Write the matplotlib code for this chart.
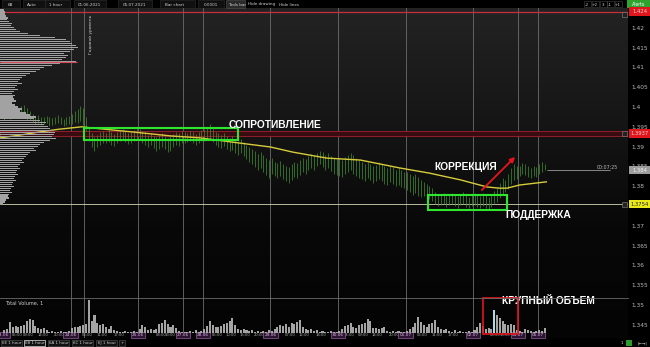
import matplotlib.pyplot as plt
import matplotlib.transforms as mtransforms
from matplotlib.colors import LinearSegmentedColormap
from matplotlib.patches import Rectangle
import numpy as np

W, H = 650, 347


def fx(px):
    return px / W


def fy(py):
    return 1 - py / H


# ---- data ----
day_labels = ['23.06', '24.06', '25.06', '27.06', '28.06', '29.06',
              '30.06', '01.07', '02.07', '04.07', '05.07']
day_bars = [24, 24, 16, 7, 24, 24, 24, 24, 16, 7, 3]
hour_marks = [
    [(5, '05:00'), (9, '09:00'), (14, '14:00'), (20, '20:00')],
    [(6, '06:00'), (11, '11:00'), (17, '17:00')],
    [(8, '08:00'), (13, '13:00')],
    [],
    [(5, '05:00'), (10, '10:00'), (15, '15:00'), (20, '20:00')],
    [(7, '07:00'), (12, '12:00'), (18, '18:00')],
    [(4, '04:00'), (9, '09:00'), (14, '14:00'), (20, '20:00')],
    [(6, '06:00'), (11, '11:00'), (17, '17:00')],
    [(8, '08:00'), (13, '13:00')],
    [],
    [],
]

highs = [
    1.3985, 1.3990, 1.3988, 1.3995, 1.3998, 1.3992, 1.4002, 1.4004, 1.3998, 1.3990, 1.3982, 1.3978,
    1.3980, 1.3976, 1.3974, 1.3978, 1.3975, 1.3972, 1.3976, 1.3980, 1.3974, 1.3970, 1.3975, 1.3978,
    1.3982, 1.3990, 1.3995, 1.4002, 1.3998, 1.3975, 1.3950, 1.3935, 1.3925, 1.3930, 1.3938, 1.3940,
    1.3935, 1.3942, 1.3938, 1.3932, 1.3936, 1.3940, 1.3945, 1.3940, 1.3934, 1.3938, 1.3942, 1.3946,
    1.3944, 1.3940, 1.3936, 1.3930, 1.3934, 1.3928, 1.3925, 1.3930, 1.3934, 1.3928, 1.3922, 1.3926,
    1.3932, 1.3938, 1.3935, 1.3940,
    1.3938, 1.3935, 1.3940, 1.3936, 1.3932, 1.3938, 1.3942,
    1.3945, 1.3948, 1.3958, 1.3945, 1.3938, 1.3934, 1.3930, 1.3935, 1.3928, 1.3922, 1.3926, 1.3920,
    1.3915, 1.3918, 1.3912, 1.3905, 1.3900, 1.3895, 1.3888, 1.3882, 1.3886, 1.3878, 1.3872, 1.3865,
    1.3870, 1.3862, 1.3858, 1.3864, 1.3855, 1.3850, 1.3848, 1.3856, 1.3862, 1.3858, 1.3866, 1.3872,
    1.3868, 1.3876, 1.3882, 1.3878, 1.3885, 1.3890, 1.3886, 1.3880, 1.3884, 1.3876, 1.3872, 1.3868,
    1.3870, 1.3866, 1.3874, 1.3880, 1.3885, 1.3878, 1.3872, 1.3865, 1.3860, 1.3856, 1.3862, 1.3855,
    1.3850, 1.3854, 1.3860, 1.3856, 1.3850, 1.3845, 1.3852, 1.3848, 1.3842, 1.3846, 1.3840, 1.3836,
    1.3835, 1.3830, 1.3826, 1.3832, 1.3822, 1.3815, 1.3810, 1.3805, 1.3800, 1.3795, 1.3785, 1.3780,
    1.3778, 1.3782, 1.3776, 1.3780, 1.3784, 1.3778, 1.3775, 1.3780, 1.3785, 1.3778, 1.3774, 1.3780,
    1.3784, 1.3780, 1.3776, 1.3782, 1.3778, 1.3774, 1.3780, 1.3788, 1.3795, 1.3808, 1.3820, 1.3815,
    1.3830, 1.3845, 1.3855, 1.3850,
    1.3852, 1.3858, 1.3855, 1.3850, 1.3846, 1.3852, 1.3848,
    1.3855, 1.3860, 1.3856,
]
lows = [
    1.3968, 1.3972, 1.3970, 1.3975, 1.3978, 1.3974, 1.3976, 1.3980, 1.3966, 1.3968, 1.3962, 1.3958,
    1.3960, 1.3955, 1.3956, 1.3960, 1.3952, 1.3954, 1.3957, 1.3960, 1.3956, 1.3952, 1.3955, 1.3958,
    1.3958, 1.3962, 1.3960, 1.3965, 1.3955, 1.3940, 1.3915, 1.3900, 1.3888, 1.3898, 1.3905, 1.3910,
    1.3908, 1.3912, 1.3905, 1.3902, 1.3910, 1.3914, 1.3918, 1.3912, 1.3906, 1.3910, 1.3915, 1.3918,
    1.3916, 1.3910, 1.3905, 1.3900, 1.3903, 1.3896, 1.3890, 1.3895, 1.3900, 1.3893, 1.3886, 1.3890,
    1.3898, 1.3905, 1.3902, 1.3908,
    1.3910, 1.3912, 1.3915, 1.3908, 1.3905, 1.3910, 1.3914,
    1.3915, 1.3918, 1.3920, 1.3912, 1.3905, 1.3900, 1.3896, 1.3902, 1.3894, 1.3888, 1.3892, 1.3885,
    1.3880, 1.3884, 1.3876, 1.3868, 1.3862, 1.3855, 1.3848, 1.3842, 1.3845, 1.3835, 1.3828, 1.3820,
    1.3830, 1.3825, 1.3820, 1.3826, 1.3818, 1.3812, 1.3808, 1.3815, 1.3822, 1.3820, 1.3828, 1.3835,
    1.3830, 1.3840, 1.3845, 1.3842, 1.3850, 1.3855, 1.3848, 1.3842, 1.3845, 1.3838, 1.3832, 1.3828,
    1.3826, 1.3822, 1.3830, 1.3836, 1.3840, 1.3832, 1.3825, 1.3820, 1.3818, 1.3812, 1.3820, 1.3815,
    1.3808, 1.3812, 1.3818, 1.3814, 1.3806, 1.3802, 1.3810, 1.3805, 1.3800, 1.3804, 1.3798, 1.3795,
    1.3790, 1.3785, 1.3778, 1.3782, 1.3775, 1.3772, 1.3775, 1.3770, 1.3768, 1.3762, 1.3755, 1.3750,
    1.3752, 1.3755, 1.3748, 1.3752, 1.3756, 1.3750, 1.3746, 1.3752, 1.3756, 1.3748, 1.3745, 1.3750,
    1.3752, 1.3748, 1.3744, 1.3750, 1.3746, 1.3742, 1.3748, 1.3755, 1.3760, 1.3770, 1.3780, 1.3785,
    1.3792, 1.3805, 1.3815, 1.3818,
    1.3825, 1.3830, 1.3828, 1.3824, 1.3820, 1.3826, 1.3822,
    1.3830, 1.3835, 1.3840,
]
volume = [
    3, 4, 11, 6, 7, 6, 7, 8, 12, 14, 13, 7, 5, 4, 5, 3, 1, 2, 1, 1, 2, 1, 1, 2,
    5, 6, 6, 7, 8, 9, 33, 12, 18, 10, 8, 9, 6, 4, 7, 3, 2, 1, 1, 2, 1, 1, 2, 1,
    4, 8, 6, 3, 4, 3, 4, 9, 10, 13, 9, 6, 8, 5, 2, 1,
    1, 1, 2, 1, 3, 1, 2,
    4, 7, 12, 8, 6, 6, 7, 9, 10, 12, 15, 8, 4, 3, 4, 3, 2, 3, 1, 2, 1, 2, 1, 3,
    2, 4, 6, 8, 7, 9, 6, 10, 9, 11, 13, 6, 4, 3, 4, 2, 3, 1, 2, 1, 1, 2, 1, 1,
    2, 4, 7, 8, 10, 6, 5, 8, 9, 10, 14, 12, 5, 5, 4, 5, 6, 2, 1, 2, 1, 2, 1, 1,
    2, 4, 6, 10, 16, 11, 8, 6, 9, 10, 13, 6, 4, 3, 4, 2, 1, 3, 1, 2, 1, 1, 2, 1,
    3, 6, 10, 7, 4, 5, 4, 23, 18, 15, 12, 9, 8, 9, 8, 3,
    2, 1, 4, 3, 2, 1, 2,
    3, 2, 5,
]
ma_bars = [-1.5, 5.5, 12.5, 19.5, 27.5, 34, 45.5, 59, 69.5, 83.5, 94.5, 102.5,
           114.5, 126.5, 140.5, 151, 162, 171.5, 176, 178.5, 183, 192.5]
ma_vals = [1.3922, 1.3929, 1.3937, 1.3944, 1.3950, 1.3945, 1.3937, 1.3927, 1.3922,
           1.3909, 1.3899, 1.3886, 1.3871, 1.3866, 1.3846, 1.3833, 1.3816, 1.3798,
           1.3795, 1.3795, 1.3803, 1.3811]

# volume profile, top level 1.4245 going down in 0.0005 steps
profile_top = 1.4245
profile_step = 0.0005
profile_vol = [
    4, 5, 5, 6, 8, 7, 9, 12, 11, 14,
    16, 20, 28, 40, 55, 66, 70, 72, 76, 78,
    74, 70, 64, 68, 66, 62, 76, 60, 52, 44,
    40, 36, 30, 26, 22, 20, 18, 22, 17, 15,
    18, 14, 12, 15, 13, 14, 16, 12, 15, 18,
    22, 20, 26, 30, 36, 34, 40, 46, 44, 48,
    50, 52, 55, 54, 52, 56, 50, 44, 40, 38,
    34, 36, 30, 28, 26, 24, 22, 24, 20, 18,
    20, 17, 16, 18, 15, 14, 16, 13, 12, 14,
    11, 10, 12, 9, 8, 9, 6, 5, 3,
]
poc_price = 1.41145

# right axis ticks; 1.375 and 1.425 sit under the level boxes
price_ticks = [1.345, 1.35, 1.355, 1.36, 1.365, 1.37, 1.38, 1.385, 1.39,
               1.395, 1.4, 1.405, 1.41, 1.415, 1.42]

top_level = 1.4241
resist_band = (1.3927, 1.3939)
support_level = 1.3754
last_price = 1.384

# ---- layout ----
px_bar = 2.815
x_lo = -3 / px_bar - 0.5
x_hi = 625 / px_bar - 0.5
y_top = 1.4 + 99 * 0.0002525
y_bot = 1.4 - 231 * 0.0002525

fig = plt.figure(figsize=(6.5, 3.47), dpi=100, facecolor='black')
rect = [0, fy(338), fx(628), fy(8) - fy(338)]

bg = fig.add_axes(rect)
grad = np.linspace(0, 1, 256).reshape(-1, 1)
cmap = LinearSegmentedColormap.from_list('bg', ['#232323', '#161616', '#080808', '#040404'])
bg.imshow(grad, aspect='auto', cmap=cmap, extent=[0, 1, 0, 1])
bg.axis('off')

ax = fig.add_axes(rect, facecolor='none')
ax.set_zorder(2)
ax.set_xlim(x_lo, x_hi)
ax.set_ylim(y_bot, y_top)
for s in ax.spines.values():
    s.set_visible(False)
ax.set_xticks([])
ax.yaxis.tick_right()
ax.set_yticks(price_ticks)
ax.set_yticklabels([f'{v:g}' for v in price_ticks])
ax.tick_params(axis='y', length=0, pad=2.5, labelsize=4.2, labelcolor='#b8b8b8')

n = len(highs)
xb = np.arange(n)

# day separators
starts = np.cumsum([0] + day_bars[:-1])
for s in starts[1:]:
    ax.axvline(s - 0.5, color='#6c6c6c', lw=0.6, zorder=1)
ax.axvline(28.3, color='#6c6c6c', lw=0.6, zorder=1)
ax.text(30.0, 1.4232, 'Годовой уровень', rotation=90, fontsize=3.2, color='#cfcfcf',
        ha='left', va='top')

# horizontal levels
ax.axhline(top_level, color='#c8303a', lw=0.9, zorder=1)
ax.axhspan(*resist_band, facecolor='#3a0c12', edgecolor='#a0222e', lw=0.6, zorder=1)
ax.axhline(support_level, color='#d6d6b4', lw=0.6, zorder=1)
ax.hlines(last_price, n - 0.3, 215.0, color='#9a9a9a', lw=0.6, zorder=1)

# price bars + moving average
ax.vlines(xb, lows, highs, color='#3f8530', lw=0.55, zorder=3)
ax.plot(ma_bars, ma_vals, color='#d6cc3a', lw=1.0, zorder=4)

# annotation boxes
ax.add_patch(Rectangle((28.3, 1.39167), 83.0 - 28.3, 1.39470 - 1.39167,
                       fill=False, ec='#2ee62e', lw=1.5, zorder=5))
ax.add_patch(Rectangle((150.5, 1.37399), 178.5 - 150.5, 1.37778 - 1.37399,
                       fill=False, ec='#2ee62e', lw=1.5, zorder=5))
ax.annotate('', xy=(182.1, 1.38788), xytext=(168.9, 1.37854),
            arrowprops=dict(arrowstyle='-|>', color='#e8141c', lw=1.3, mutation_scale=7),
            zorder=6)

lab_kw = dict(color='white', fontsize=7.4, fontweight='bold', family='Liberation Sans',
              ha='left', va='center', zorder=7)
ax.text(79.8, 1.39545, 'СОПРОТИВЛЕНИЕ', **lab_kw)
ax.text(152.6, 1.38485, 'КОРРЕКЦИЯ', **lab_kw)
ax.text(177.8, 1.37273, 'ПОДДЕРЖКА', **lab_kw)
ax.text(176.8, 1.35101, 'КРУПНЫЙ ОБЪЕМ', **lab_kw)

# right side price boxes
tr = mtransforms.blended_transform_factory(ax.transAxes, ax.transData)
bh = 0.00205


def price_box(y, text, bgc, fgc):
    ax.add_patch(Rectangle((629 / 628, y - bh / 2), 21 / 628, bh, transform=tr,
                           fc=bgc, ec='none', clip_on=False, zorder=8))
    ax.text(639.5 / 628, y, text, transform=tr, ha='center', va='center',
            fontsize=3.8, color=fgc, clip_on=False, zorder=9)


def x_box(y):
    ax.add_patch(Rectangle((622 / 628, y - 0.0007), 4.5 / 628, 0.0014, transform=tr,
                           fc='#222222', ec='#8a8a8a', lw=0.4, clip_on=False, zorder=8))


price_box(top_level, '1.424', '#e0161c', '#f4d0d0')
price_box(sum(resist_band) / 2, '1.3937', '#e0161c', '#f4d0d0')
price_box(last_price, '1.384', '#9c9c9c', '#f2f2f2')
price_box(support_level, '1.3754', '#eaea1a', '#202020')
x_box(top_level - 0.0008)
x_box(sum(resist_band) / 2)
x_box(support_level)
ax.text(618 / 628, last_price + 0.0008, '00:07:25', transform=tr, ha='right',
        va='center', fontsize=3.4, color='#bdbdbd', zorder=8)

# time axis labels; the last label before a short session is anchored left of its box
tb = mtransforms.blended_transform_factory(ax.transData, ax.transAxes)
for s, marks, nb in zip(starts, hour_marks, day_bars):
    for h, t in marks:
        x, ha = s + h - 0.5, 'center'
        if nb == 16 and h == marks[-1][0]:
            x, ha = s + h - 0.3, 'right'
        ax.text(x, 0.009, t, transform=tb, ha=ha, va='center',
                fontsize=2.7, color='#a8a8a8', zorder=8, clip_on=False)
for s, lab in zip(starts, day_labels):
    ax.text(s - 0.5, 0.009, lab, transform=tb, ha='center', va='center',
            fontsize=3.1, color='#e0b8e8', zorder=9,
            bbox=dict(boxstyle='square,pad=0.25', fc='#2a1630', ec='#94589e', lw=0.5))

# volume profile overlay
pa = fig.add_axes([0, fy(338), fx(100), fy(8) - fy(338)], facecolor='none')
pa.set_zorder(3)
pa.set_xlim(0, 100)
pa.set_ylim(y_bot, y_top)
pa.axis('off')
levels = profile_top - profile_step * np.arange(len(profile_vol))
pa.barh(levels, profile_vol, height=profile_step * 0.62, color='#a2a2a2', lw=0)
pa.hlines(poc_price, 0, 77, color='#d4485a', lw=0.8)

# volume pane
va = fig.add_axes([0, fy(333), fx(628), (333 - 298) / H], facecolor='none')
va.set_zorder(4)
va.set_xlim(x_lo, x_hi)
vmax = max(volume)
va.set_ylim(0, vmax * 35 / 33)
for k, s in va.spines.items():
    s.set_visible(k == 'top')
va.spines['top'].set_color('#6a6a6a')
va.spines['top'].set_linewidth(0.6)
va.set_xticks([])
va.set_yticks([])
big = int(np.argmax(volume[150:])) + 150
vcol = ['#a4a4a4'] * n
vcol[big] = '#a8dce6'
va.bar(xb, volume, width=0.72, color=vcol, lw=0)
va.text(0.008, 0.93, 'Total Volume, 1', transform=va.transAxes, fontsize=3.6,
        color='#cfcfcf', ha='left', va='top')
vt = mtransforms.blended_transform_factory(va.transData, va.transAxes)
va.add_patch(Rectangle((170.0, -0.03), 182.4 - 170.0, 1.03, transform=vt, fill=False,
                       ec='#e0141c', lw=1.2, clip_on=False))

# ---- top toolbar ----
fig.patches.append(Rectangle((0, fy(8)), 1, 1 - fy(8), transform=fig.transFigure,
                             fc='#000000', ec='none'))
for x0, w in [(2, 18), (23, 22), (45, 25), (74, 32), (118, 34), (160, 35), (198, 26)]:
    fig.patches.append(Rectangle((fx(x0), fy(7.5)), fx(w), fy(0.5) - fy(7.5),
                                 transform=fig.transFigure, fc='#101010', ec='#2e2e2e',
                                 lw=0.4))
fig.patches.append(Rectangle((fx(226), fy(7.5)), fx(19), fy(0.5) - fy(7.5),
                             transform=fig.transFigure, fc='#2a2a2a', ec='#555555', lw=0.4))
tool_items = [('6B', 8), ('Auto', 27), ('1 hour', 49), ('01.06.2021', 78),
              ('05.07.2021', 123), ('Bar chart', 165), ('0.0001', 204),
              ('Tools bar', 228), ('Hide drawing', 248), ('Hide lines', 279)]
for t, x0 in tool_items:
    fig.text(fx(x0), fy(4), t, fontsize=3.0, color='#cfcfcf', ha='left',
             va='center_baseline')
for t, x0 in [('-2', 587), ('+2', 595), ('3', 603), ('-1', 610), ('+1', 618)]:
    fig.text(fx(x0), fy(4), t, fontsize=3.0, color='#cfcfcf', ha='center',
             va='center_baseline')
    fig.patches.append(Rectangle((fx(x0 - 3.5), fy(7)), fx(7), fy(1) - fy(7),
                                 transform=fig.transFigure, fc='none', ec='#444444', lw=0.4))
fig.patches.append(Rectangle((fx(627), fy(7.5)), fx(23), fy(0) - fy(7.5),
                             transform=fig.transFigure, fc='#2ea42e', ec='none'))
fig.text(fx(638.5), fy(4), 'Alerts', fontsize=3.3, color='white', ha='center',
         va='center_baseline')

# ---- bottom tabs ----
tabs = ['6E 1 hour', '6B 1 hour', '6A 1 hour', '6C 1 hour', '6J 1 hour', '+']
tab_x = [1, 24, 48, 72, 96, 119]
tab_w = [21, 21, 21, 21, 21, 6]
for i, (t, x0, w) in enumerate(zip(tabs, tab_x, tab_w)):
    fig.patches.append(Rectangle((fx(x0), fy(346)), fx(w), fy(339.5) - fy(346),
                                 transform=fig.transFigure, fc='#111111',
                                 ec='#e8e8e8' if i == 1 else '#4a4a4a', lw=0.5))
    fig.text(fx(x0 + w / 2), fy(342.8), t, fontsize=2.9, color='#d0d0d0',
             ha='center', va='center_baseline')
fig.text(fx(622), fy(342.8), '1', fontsize=3.0, color='#cfcfcf', ha='center',
         va='center_baseline')
fig.patches.append(Rectangle((fx(626), fy(345.5)), fx(6), fy(340) - fy(345.5),
                             transform=fig.transFigure, fc='#2a9a2a', ec='none'))
fig.text(fx(642), fy(342.8), '|←→|', fontsize=3.0, color='#cfcfcf', ha='center',
         va='center_baseline')

fig.savefig('out.png', dpi=100, facecolor=fig.get_facecolor())
